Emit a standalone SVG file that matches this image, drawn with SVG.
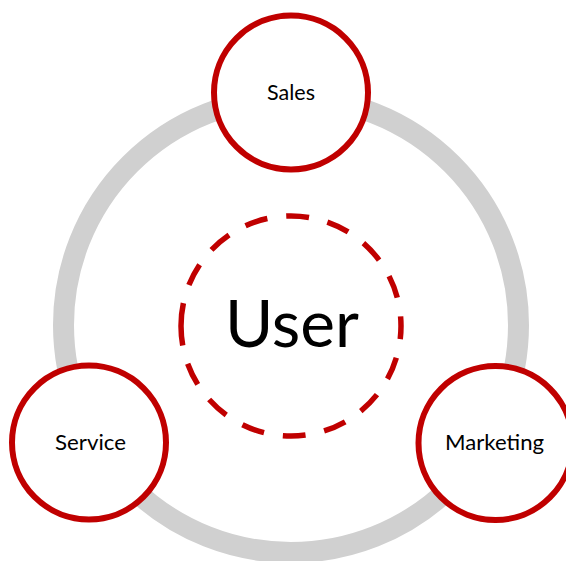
<svg xmlns="http://www.w3.org/2000/svg" width="566" height="561" viewBox="0 0 566 561">
  <style>
    .ring { fill: none; stroke: #d0d0d0; stroke-width: 21; }
    .node { fill: #ffffff; stroke: #c00000; stroke-width: 6; }
    .user { fill: none; stroke: #c00000; stroke-width: 5.5; stroke-dasharray: 23 18.94; }
    .lbl { font-family: Lato, "Open Sans", "Liberation Sans", sans-serif; font-size: 22px; fill: #000000; text-anchor: middle; }
    .big { font-family: Lato, "Open Sans", "Liberation Sans", sans-serif; font-size: 65px; fill: #000000; text-anchor: middle; }
  </style>
  <rect width="566" height="561" fill="#ffffff"/>
  <g id="connectors">
    <circle class="ring" cx="291" cy="325" r="227.5"/>
  </g>
  <g id="user">
    <path class="user" d="M181 326 A110 110 0 1 1 401 326 A110 110 0 1 1 181 326"/>
    <text class="big" x="292" y="347" textLength="134" lengthAdjust="spacingAndGlyphs">User</text>
  </g>
  <g id="sales">
    <circle class="node" cx="291" cy="92.5" r="77"/>
    <text class="lbl" x="291" y="100" textLength="48" lengthAdjust="spacingAndGlyphs">Sales</text>
  </g>
  <g id="service">
    <circle class="node" cx="89" cy="442.5" r="77"/>
    <text class="lbl" x="90.5" y="450" textLength="71" lengthAdjust="spacingAndGlyphs">Service</text>
  </g>
  <g id="marketing">
    <circle class="node" cx="495.5" cy="443" r="77"/>
    <text class="lbl" x="494.5" y="450" textLength="99" lengthAdjust="spacingAndGlyphs">Marketing</text>
  </g>
</svg>
